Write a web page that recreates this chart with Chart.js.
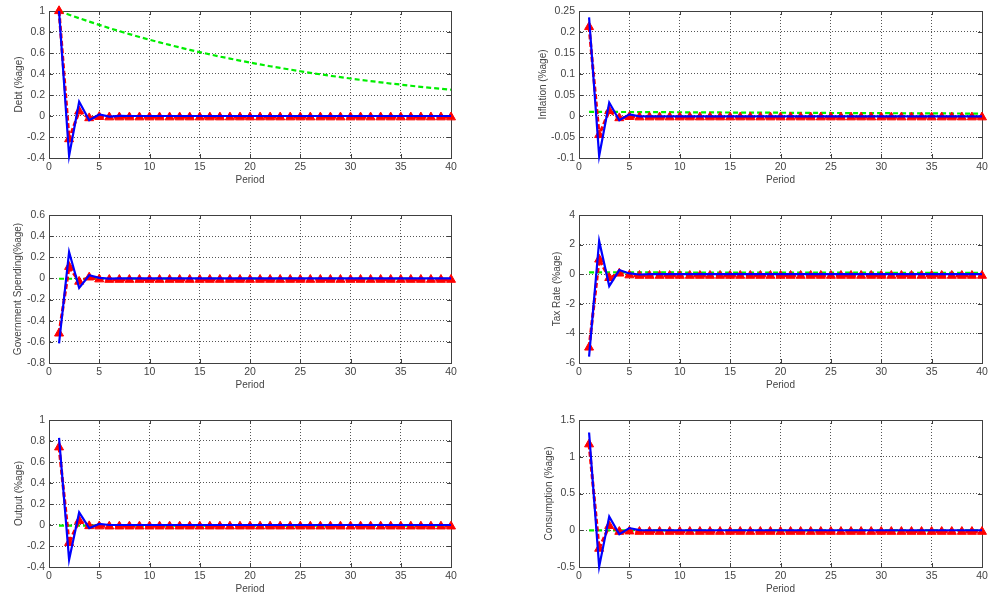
<!DOCTYPE html>
<html><head><meta charset="utf-8">
<script src="https://cdn.jsdelivr.net/npm/chart.js@4.4.1/dist/chart.umd.min.js"></script>
<style>
html,body{margin:0;padding:0;background:#fff;overflow:hidden;width:997px;height:599px;position:relative}
canvas{position:absolute;display:block}
</style></head><body>
<canvas id="c0"></canvas><canvas id="c1"></canvas><canvas id="c2"></canvas>
<canvas id="c3"></canvas><canvas id="c4"></canvas><canvas id="c5"></canvas>
<script>
const periods = [1,2,3,4,5,6,7,8,9,10,11,12,13,14,15,16,17,18,19,20,21,22,23,24,25,26,27,28,29,30,31,32,33,34,35,36,37,38,39,40];
const xTicks = [0,5,10,15,20,25,30,35,40];

const debtTicks = [-0.4,-0.2,0,0.2,0.4,0.6,0.8,1];
const debtBlue = [1.00,-0.38,0.135,-0.04,0.015,-0.005,0.002,0,0,0,
  0,0,0,0,0,0,0,0,0,0, 0,0,0,0,0,0,0,0,0,0, 0,0,0,0,0,0,0,0,0,0];
const debtRed = [1.00,-0.22,0.045,-0.02,-0.008,-0.012,-0.012,-0.012,-0.012,-0.012,
  -0.012,-0.012,-0.012,-0.012,-0.012,-0.012,-0.012,-0.012,-0.012,-0.012,
  -0.012,-0.012,-0.012,-0.012,-0.012,-0.012,-0.012,-0.012,-0.012,-0.012,
  -0.012,-0.012,-0.012,-0.012,-0.012,-0.012,-0.012,-0.012,-0.012,-0.012];
const debtGreen = [1.000,0.965,0.931,0.899,0.868,0.837,0.808,0.780,0.753,0.726,
  0.701,0.677,0.653,0.630,0.608,0.587,0.566,0.547,0.528,0.509,
  0.491,0.474,0.458,0.442,0.426,0.411,0.397,0.383,0.370,0.357,
  0.344,0.332,0.321,0.309,0.299,0.288,0.278,0.268,0.259,0.250];

const inflTicks = [-0.1,-0.05,0,0.05,0.1,0.15,0.2,0.25];
const inflBlue = [0.235,-0.095,0.032,-0.010,0.004,-0.001,-0.001,-0.001,-0.001,-0.001,
  -0.001,-0.001,-0.001,-0.001,-0.001,-0.001,-0.001,-0.001,-0.001,-0.001,
  -0.001,-0.001,-0.001,-0.001,-0.001,-0.001,-0.001,-0.001,-0.001,-0.001,
  -0.001,-0.001,-0.001,-0.001,-0.001,-0.001,-0.001,-0.001,-0.001,-0.001];
const inflRed = [0.212,-0.045,0.012,-0.005,-0.002,-0.003,-0.003,-0.003,-0.003,-0.003,
  -0.003,-0.003,-0.003,-0.003,-0.003,-0.003,-0.003,-0.003,-0.003,-0.003,
  -0.003,-0.003,-0.003,-0.003,-0.003,-0.003,-0.003,-0.003,-0.003,-0.003,
  -0.003,-0.003,-0.003,-0.003,-0.003,-0.003,-0.003,-0.003,-0.003,-0.003];
const inflGreen = [0.0100,0.0099,0.0098,0.0096,0.0095,0.0094,0.0093,0.0091,0.0090,0.0089,
  0.0088,0.0087,0.0085,0.0084,0.0083,0.0082,0.0081,0.0080,0.0079,0.0078,
  0.0076,0.0075,0.0074,0.0073,0.0072,0.0071,0.0070,0.0069,0.0068,0.0067,
  0.0066,0.0065,0.0064,0.0063,0.0062,0.0061,0.0060,0.0059,0.0058,0.0057];

const govTicks = [-0.8,-0.6,-0.4,-0.2,0,0.2,0.4,0.6];
const govBlue = [-0.615,0.25,-0.09,0.03,0.005,-0.002,0,0,0,0,
  0,0,0,0,0,0,0,0,0,0, 0,0,0,0,0,0,0,0,0,0, 0,0,0,0,0,0,0,0,0,0];
const govRed = [-0.52,0.11,-0.03,0.01,-0.008,-0.012,-0.012,-0.012,-0.012,-0.012,
  -0.012,-0.012,-0.012,-0.012,-0.012,-0.012,-0.012,-0.012,-0.012,-0.012,
  -0.012,-0.012,-0.012,-0.012,-0.012,-0.012,-0.012,-0.012,-0.012,-0.012,
  -0.012,-0.012,-0.012,-0.012,-0.012,-0.012,-0.012,-0.012,-0.012,-0.012];
const govGreen = [-0.003,-0.003,-0.003,-0.003,-0.003,-0.003,-0.003,-0.003,-0.003,-0.003,
  -0.003,-0.003,-0.003,-0.003,-0.003,-0.003,-0.003,-0.003,-0.003,-0.003,
  -0.003,-0.003,-0.003,-0.003,-0.003,-0.003,-0.003,-0.003,-0.003,-0.003,
  -0.003,-0.003,-0.003,-0.003,-0.003,-0.003,-0.003,-0.003,-0.003,-0.003];

const taxTicks = [-6,-4,-2,0,2,4];
const taxBlue = [-5.57,2.25,-0.80,0.28,0.05,-0.02,0,0,0,0,
  0,0,0,0,0,0,0,0,0,0, 0,0,0,0,0,0,0,0,0,0, 0,0,0,0,0,0,0,0,0,0];
const taxRed = [-4.95,1.00,-0.25,0.05,-0.07,-0.10,-0.10,-0.10,-0.10,-0.10,
  -0.10,-0.10,-0.10,-0.10,-0.10,-0.10,-0.10,-0.10,-0.10,-0.10,
  -0.10,-0.10,-0.10,-0.10,-0.10,-0.10,-0.10,-0.10,-0.10,-0.10,
  -0.10,-0.10,-0.10,-0.10,-0.10,-0.10,-0.10,-0.10,-0.10,-0.10];
const taxGreen = [0.12,0.12,0.12,0.12,0.12,0.12,0.12,0.12,0.12,0.12,
  0.11,0.11,0.11,0.11,0.11,0.11,0.11,0.11,0.11,0.11,
  0.10,0.10,0.10,0.10,0.10,0.10,0.10,0.10,0.10,0.10,
  0.09,0.09,0.09,0.09,0.09,0.09,0.09,0.09,0.09,0.09];

const outTicks = [-0.4,-0.2,0,0.2,0.4,0.6,0.8,1];
const outBlue = [0.83,-0.33,0.12,-0.03,0.01,0,0,0,0,0,
  0,0,0,0,0,0,0,0,0,0, 0,0,0,0,0,0,0,0,0,0, 0,0,0,0,0,0,0,0,0,0];
const outRed = [0.74,-0.17,0.04,-0.01,-0.012,-0.013,-0.013,-0.013,-0.013,-0.013,
  -0.013,-0.013,-0.013,-0.013,-0.013,-0.013,-0.013,-0.013,-0.013,-0.013,
  -0.013,-0.013,-0.013,-0.013,-0.013,-0.013,-0.013,-0.013,-0.013,-0.013,
  -0.013,-0.013,-0.013,-0.013,-0.013,-0.013,-0.013,-0.013,-0.013,-0.013];
const outGreen = [-0.005,-0.005,-0.005,-0.005,-0.005,-0.005,-0.005,-0.005,-0.005,-0.005,
  -0.005,-0.005,-0.005,-0.005,-0.005,-0.005,-0.005,-0.005,-0.005,-0.005,
  -0.005,-0.005,-0.005,-0.005,-0.005,-0.005,-0.005,-0.005,-0.005,-0.005,
  -0.005,-0.005,-0.005,-0.005,-0.005,-0.005,-0.005,-0.005,-0.005,-0.005];

const consTicks = [-0.5,0,0.5,1,1.5];
const consBlue = [1.33,-0.495,0.185,-0.055,0.03,0.002,0,0,0,0,
  0,0,0,0,0,0,0,0,0,0, 0,0,0,0,0,0,0,0,0,0, 0,0,0,0,0,0,0,0,0,0];
const consRed = [1.17,-0.25,0.06,-0.02,-0.015,-0.02,-0.02,-0.02,-0.02,-0.02,
  -0.02,-0.02,-0.02,-0.02,-0.02,-0.02,-0.02,-0.02,-0.02,-0.02,
  -0.02,-0.02,-0.02,-0.02,-0.02,-0.02,-0.02,-0.02,-0.02,-0.02,
  -0.02,-0.02,-0.02,-0.02,-0.02,-0.02,-0.02,-0.02,-0.02,-0.02];
const consGreen = [-0.003,-0.003,-0.003,-0.003,-0.003,-0.003,-0.003,-0.003,-0.003,-0.003,
  -0.003,-0.003,-0.003,-0.003,-0.003,-0.003,-0.003,-0.003,-0.003,-0.003,
  -0.003,-0.003,-0.003,-0.003,-0.003,-0.003,-0.003,-0.003,-0.003,-0.003,
  -0.003,-0.003,-0.003,-0.003,-0.003,-0.003,-0.003,-0.003,-0.003,-0.003];

const yTitles = ['Debt (%age)','Inflation (%age)','Government Spending(%age)','Tax Rate (%age)','Output (%age)','Consumption (%age)'];
const xTitle = 'Period';

const FONT = '"Liberation Sans", Arial, Helvetica, sans-serif';
const TXT = '#444444';
const FRAME = '#404040';

const panels = [
  {blue:debtBlue, red:debtRed, green:debtGreen, ticks:debtTicks, left:0,   top:0,   w:498, plotH:147, yw:49, pr:47, tpad:13},
  {blue:inflBlue, red:inflRed, green:inflGreen, ticks:inflTicks, left:498, top:0,   w:499, plotH:147, yw:81, pr:15, tpad:39},
  {blue:govBlue,  red:govRed,  green:govGreen,  ticks:govTicks,  left:0,   top:204, w:498, plotH:148, yw:49, pr:47, tpad:12},
  {blue:taxBlue,  red:taxRed,  green:taxGreen,  ticks:taxTicks,  left:498, top:204, w:499, plotH:148, yw:81, pr:15, tpad:53},
  {blue:outBlue,  red:outRed,  green:outGreen,  ticks:outTicks,  left:0,   top:409, w:498, plotH:147, yw:49, pr:47, tpad:13},
  {blue:consBlue, red:consRed, green:consGreen, ticks:consTicks, left:498, top:409, w:499, plotH:147, yw:81, pr:15, tpad:45}
];

const framePlugin = {
  id: 'frame',
  beforeDatasetsDraw(chart) {
    const {ctx, chartArea: a, scales} = chart;
    ctx.save();
    ctx.strokeStyle = FRAME;
    ctx.lineWidth = 1;
    ctx.beginPath();
    const tl = 4;
    scales.x.ticks.forEach(t => {
      const px = Math.round(scales.x.getPixelForValue(t.value)) + 0.5;
      ctx.moveTo(px, a.bottom); ctx.lineTo(px, a.bottom - tl);
      ctx.moveTo(px, a.top); ctx.lineTo(px, a.top + tl);
    });
    scales.y.ticks.forEach(t => {
      const py = Math.round(scales.y.getPixelForValue(t.value)) + 0.5;
      ctx.moveTo(a.left, py); ctx.lineTo(a.left + tl, py);
      ctx.moveTo(a.right, py); ctx.lineTo(a.right - tl, py);
    });
    ctx.stroke();
    ctx.strokeRect(Math.round(a.left) + 0.5, Math.round(a.top) + 0.5,
                   Math.round(a.right - a.left), Math.round(a.bottom - a.top));
    ctx.restore();
  }
};

panels.forEach((p, i) => {
  const cv = document.getElementById('c' + i);
  const h = 11 + p.plotH + 40;
  cv.width = p.w; cv.height = h;
  cv.style.left = p.left + 'px'; cv.style.top = p.top + 'px';
  cv.style.width = p.w + 'px'; cv.style.height = h + 'px';
  const pts = arr => periods.map((x, k) => ({x: x, y: arr[k]}));
  new Chart(cv, {
    type: 'line',
    data: {
      datasets: [
        {data: pts(p.blue), borderColor: '#0000ff', borderWidth: 2.2, pointRadius: 0, tension: 0, clip: false},
        {data: pts(p.red), borderColor: '#ff0000', borderWidth: 3, borderDash: [5, 2.5], pointStyle: 'triangle',
         pointRadius: 5.2, pointBackgroundColor: '#ff0000', pointBorderColor: '#ff0000', pointBorderWidth: 1, tension: 0, clip: false},
        {data: pts(p.green), borderColor: '#00ee00', borderWidth: 2.2, borderDash: [5, 3], pointRadius: 0, tension: 0, clip: false}
      ]
    },
    options: {
      responsive: false,
      animation: false,
      devicePixelRatio: 1,
      layout: {padding: {left: 0, top: 11, right: p.pr, bottom: 0}},
      plugins: {legend: {display: false}, tooltip: {enabled: false}},
      scales: {
        x: {
          type: 'linear', min: 0, max: 40,
          afterBuildTicks: s => { s.ticks = xTicks.map(v => ({value: v})); },
          afterFit: s => { s.height = 40; },
          ticks: {color: TXT, font: {family: FONT, size: 10.5}, padding: 3, maxRotation: 0, callback: v => String(v)},
          grid: {color: '#555', lineWidth: 1, drawTicks: false},
          border: {display: true, color: FRAME, dash: [1, 2]},
          title: {display: true, text: xTitle, color: TXT, font: {family: FONT, size: 10}, padding: {top: 0, bottom: 12}}
        },
        y: {
          type: 'linear', min: p.ticks[0], max: p.ticks[p.ticks.length - 1],
          afterBuildTicks: s => { s.ticks = p.ticks.map(v => ({value: v})); },
          afterFit: s => { s.width = p.yw; },
          ticks: {color: TXT, font: {family: FONT, size: 10.5}, padding: 4, callback: v => String(v)},
          grid: {color: '#555', lineWidth: 1, drawTicks: false},
          border: {display: true, color: FRAME, dash: [1, 2]},
          title: {display: true, text: yTitles[i], color: TXT, font: {family: FONT, size: 10}, padding: {top: p.tpad, bottom: 0}}
        }
      }
    },
    plugins: [framePlugin]
  });
});
</script>
</body></html>
